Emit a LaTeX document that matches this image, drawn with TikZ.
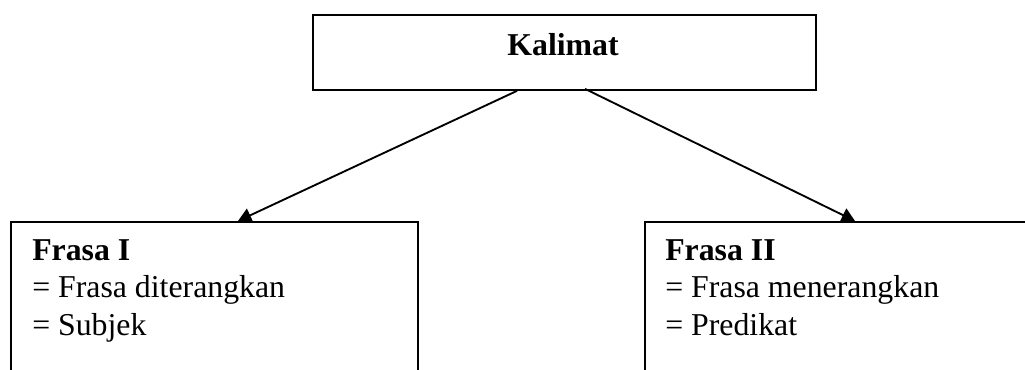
\documentclass[tikz,border=0pt]{standalone}
\usepackage{fontspec}
\setmainfont{Liberation Serif}
\usetikzlibrary{arrows.meta,calc}
\tikzset{
  boxline/.style={draw=black, line width=1.4pt, fill=none, inner sep=0pt},
  txt/.style={inner sep=0pt, anchor=base west, font=\fontsize{23.85}{27.4}\selectfont},
  ttl/.style={inner sep=0pt, anchor=base, font=\fontsize{23.85}{27.4}\selectfont\bfseries},
  arr/.style={line width=1.4pt, -{Triangle[length=10pt,width=11pt]}}
}
\begin{document}
\begin{tikzpicture}[x=0.75pt,y=-0.75pt]
\useasboundingbox (0,0) rectangle (1025,370);
\clip (0,0) rectangle (1025,370);
% top box
\node[boxline, anchor=north west, minimum width=377.25pt, minimum height=56.25pt] (kal) at (312,14) {};
\node[ttl] (kalt) at (563,56) {Kalimat};
% left box (extends below the picture)
\node[boxline, anchor=north west, minimum width=305.25pt, minimum height=150pt] (f1) at (10,221) {};
\node[txt] (f1a) at (32,261) {\bfseries Frasa I};
\node[txt] (f1b) at (32,298) {= Frasa diterangkan};
\node[txt] (f1c) at (32,335) {= Subjek};
% right box (extends beyond the picture)
\node[boxline, anchor=north west, minimum width=300pt, minimum height=150pt] (f2) at (644,221) {};
\node[txt] (f2a) at (665,261) {\bfseries Frasa II};
\node[txt] (f2b) at (665,298) {= Frasa menerangkan};
\node[txt] (f2c) at (665,335) {= Predikat};
% connectors
\coordinate (k1) at ($(kal.south west)+(205,0)$);
\coordinate (k2) at ($(kal.south west)+(273,-2)$);
\coordinate (e1) at ($(f1.north west)+(228,0)$);
\coordinate (e2) at ($(f2.north west)+(211,0)$);
\draw[arr] (k1) -- (e1);
\draw[arr] (k2) -- (e2);
\end{tikzpicture}
\end{document}
